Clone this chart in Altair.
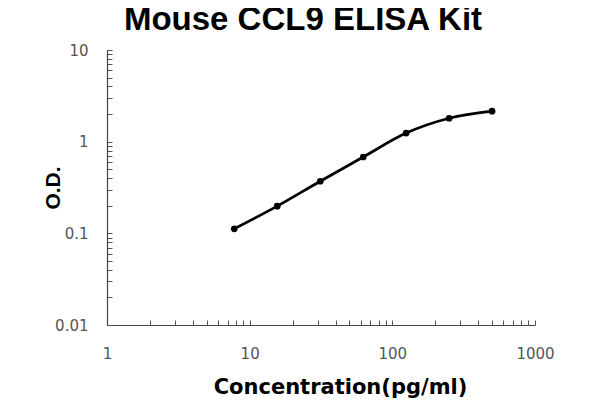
import altair as alt
import pandas as pd

conc = [7.8, 15.6, 31.25, 62.5, 125, 250, 500]
od = [0.112, 0.198, 0.37, 0.68, 1.24, 1.80, 2.15]

x_ticks = [1, 2, 3, 4, 5, 6, 7, 8, 9, 10, 20, 30, 40, 50, 60, 70, 80, 90,
           100, 200, 300, 400, 500, 600, 700, 800, 900, 1000]
y_ticks = [0.01, 0.02, 0.03, 0.04, 0.05, 0.06, 0.07, 0.08, 0.09,
           0.1, 0.2, 0.3, 0.4, 0.5, 0.6, 0.7, 0.8, 0.9,
           1, 2, 3, 4, 5, 6, 7, 8, 9, 10]

df = pd.DataFrame({"conc": conc, "od": od})

label_expr = ("(abs(log(datum.value)/LN10 - round(log(datum.value)/LN10)) < 0.001) "
              "? format(datum.value, '~g') : ''")

x = alt.X("conc:Q",
          scale=alt.Scale(type="log", domain=[1, 1000], nice=False),
          axis=alt.Axis(values=x_ticks, labelExpr=label_expr, grid=False,
                        title="Concentration(pg/ml)", tickSize={"expr": "-5"},
                        labelPadding=26, titlePadding=15, titleX=233,
                        labelFlush=False, labelOverlap=False,
                        titleFont="DejaVu Sans", titleFontSize=21))
y = alt.Y("od:Q",
          scale=alt.Scale(type="log", domain=[0.01, 10], nice=False),
          axis=alt.Axis(values=y_ticks, labelExpr=label_expr, grid=False,
                        title="O.D.", tickSize={"expr": "-5"},
                        labelPadding=24, titlePadding=-9,
                        labelFlush=False, labelOverlap=False,
                        titleFont="Liberation Sans", titleFontSize=21))

base = alt.Chart(df)
line = base.mark_line(color="black", strokeWidth=2.7, interpolate="monotone").encode(x=x, y=y)
pts = base.mark_circle(color="black", size=45, opacity=1).encode(x=x, y=y)

chart = (line + pts).properties(
    width=428, height=275,
    background="white",
    title=alt.TitleParams("Mouse CCL9 ELISA Kit", fontSize=33, font="Liberation Sans",
                          fontWeight="bold", color="black", offset=6, dx=-18,
                          anchor="middle"),
    autosize=alt.AutoSizeParams(type="none"),
    padding={"left": 99, "top": 42, "right": 57, "bottom": 75},
).configure_view(stroke=None).configure_axis(
    domainColor="#444", tickColor="#555", domainWidth=1.2, tickWidth=1,
    labelFont="DejaVu Sans", labelFontSize=15, labelColor="#555",
    titleFontWeight="bold", titleColor="black",
)

chart.save("out.html", embed_options={"renderer": "svg", "actions": False})
